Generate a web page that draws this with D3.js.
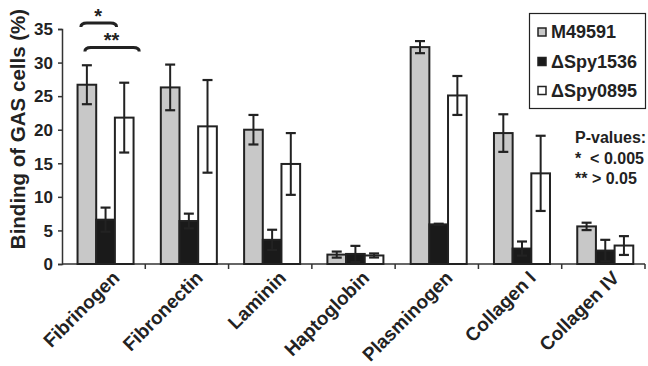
<!DOCTYPE html>
<html><head><meta charset="utf-8">
<script src="https://cdn.jsdelivr.net/npm/d3@7"></script>
<style>
body{margin:0;background:#fff;}
text{font-family:"Liberation Sans",Arial,sans-serif;font-weight:bold;fill:#222;}
</style></head>
<body><svg id="c" width="648" height="366"></svg>
<script>
const categories=["Fibrinogen","Fibronectin","Laminin","Haptoglobin","Plasminogen","Collagen I","Collagen IV"];
const series=["M49591","\u0394Spy1536","\u0394Spy0895"];
const m49591=[26.7,26.3,20.0,1.4,32.3,19.5,5.6];
const m49591Err=[2.9,3.4,2.2,0.45,0.9,2.8,0.55];
const spy1536=[6.6,6.4,3.6,1.5,5.9,2.3,2.0];
const spy1536Err=[1.8,1.1,1.5,1.2,0.1,1.05,1.6];
const spy0895=[21.8,20.5,14.9,1.27,25.1,13.5,2.75];
const spy0895Err=[5.2,6.9,4.6,0.3,2.9,5.6,1.4];
const yTicks=[0,5,10,15,20,25,30,35];
const colors=["#c8c8c8","#1a1a1a","#ffffff"];
const pvalLines=["P-values:","*  < 0.005","** > 0.05"];

const values=[m49591,spy1536,spy0895], errs=[m49591Err,spy1536Err,spy0895Err];
const svg=d3.select("#c");
const x0=d3.scaleBand().domain(categories).range([62,645]).paddingInner(0).paddingOuter(0);
const x1=d3.scaleBand().domain(series).range([0,x0.bandwidth()]).paddingInner(0).paddingOuter(0.73).align(0.57);
const y=d3.scaleLinear().domain([0,35]).range([264,29]);

// y axis
const ya=svg.append("g").attr("transform","translate(62,0)")
  .call(d3.axisLeft(y).tickValues(yTicks).tickSize(4).tickPadding(5));
ya.select(".domain").attr("stroke","#333").attr("stroke-width",1.5);
ya.selectAll(".tick line").attr("stroke","#333").attr("stroke-width",1.5);
ya.selectAll(".tick text").style("font-size","17px").attr("fill","#222").attr("dy","0.34em");

// x axis
const xa=svg.append("g").attr("transform","translate(0,264)");
xa.append("line").attr("x1",62).attr("x2",645).attr("stroke","#333").attr("stroke-width",1.5);
const bounds=categories.map(c=>x0(c)).concat([x0(categories[categories.length-1])+x0.bandwidth()]);
xa.selectAll("line.t").data(bounds.slice(1)).enter().append("line").attr("class","t")
  .attr("x1",d=>d).attr("x2",d=>d).attr("y1",0).attr("y2",5).attr("stroke","#333").attr("stroke-width",1.5);
xa.selectAll("text").data(categories).enter().append("text")
  .attr("transform",d=>`translate(${x0(d)+x0.bandwidth()/2+17},${15}) rotate(-45)`)
  .attr("text-anchor","end").style("font-size","19px").text(d=>d);

// bars
const g=svg.append("g");
series.forEach((s,si)=>{
  categories.forEach((c,ci)=>{
    const v=values[si][ci];
    g.append("rect").attr("x",x0(c)+x1(s)).attr("y",y(v))
      .attr("width",x1.bandwidth()).attr("height",y(0)-y(v))
      .attr("fill",colors[si]).attr("stroke","#222").attr("stroke-width",2);
  });
});
// error bars
series.forEach((s,si)=>{
  categories.forEach((c,ci)=>{
    const v=values[si][ci], e=errs[si][ci];
    const cx=x0(c)+x1(s)+x1.bandwidth()/2;
    const col="#222";
    g.append("line").attr("x1",cx).attr("x2",cx).attr("y1",y(v+e)).attr("y2",y(v-e)).attr("stroke",col).attr("stroke-width",2);
    [v+e,v-e].forEach(t=>g.append("line").attr("x1",cx-5).attr("x2",cx+5).attr("y1",y(t)).attr("y2",y(t)).attr("stroke",col).attr("stroke-width",2.2));
  });
});

// brackets
function brace(xa,xb,yy){
  const r=4;
  return `M${xa},${yy+4} Q${xa},${yy} ${xa+r+2},${yy} L${xb-r-2},${yy} Q${xb},${yy} ${xb},${yy+4}`;
}
const fx=x0(categories[0]);
const gx=c=>fx+x1(series[c])+x1.bandwidth()/2;
svg.append("path").attr("d",brace(gx(0)-6,gx(1)+11,23)).attr("fill","none").attr("stroke","#222").attr("stroke-width",3);
svg.append("path").attr("d",brace(gx(0)-2,gx(2)+15,47.5)).attr("fill","none").attr("stroke","#222").attr("stroke-width",3);
svg.append("text").attr("x",(gx(0)+gx(1))/2+2).attr("y",23).attr("text-anchor","middle").style("font-size","20px").text("*");
svg.append("text").attr("x",(gx(0)+gx(2))/2+6).attr("y",47).attr("text-anchor","middle").style("font-size","20px").text("**");

// legend
const lg=svg.append("g");
lg.append("rect").attr("x",529.5).attr("y",13.5).attr("width",116).attr("height",95).attr("fill","#fff").attr("stroke","#222").attr("stroke-width",1.2);
const ly=[32,61.5,90.5];
series.forEach((s,i)=>{
  lg.append("rect").attr("x",538).attr("y",ly[i]-4).attr("width",8).attr("height",8).attr("fill",colors[i]).attr("stroke","#222").attr("stroke-width",1.5);
  lg.append("text").attr("x",551).attr("y",ly[i]).attr("dy","0.36em").style("font-size","18px").text(s);
});
// p-values
pvalLines.forEach((t,i)=>{
  svg.append("text").attr("x",575).attr("y",143+i*20.5).style("font-size","16px").attr("xml:space","preserve").style("white-space","pre").text(t);
});

// y label
svg.append("text").attr("transform","translate(25,129) rotate(-90)").attr("text-anchor","middle").style("font-size","20.5px").text("Binding of GAS cells (%)");
</script></body></html>
